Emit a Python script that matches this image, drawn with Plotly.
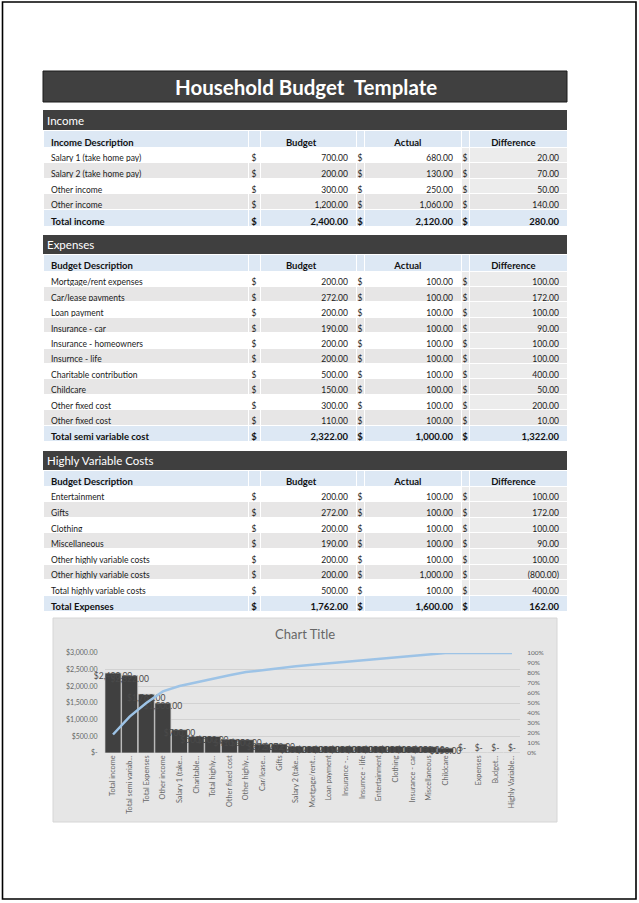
import numpy as np
import plotly.graph_objects as go

W, H = 639, 903

# ---------------- data ----------------
title_text = "Household Budget\u00a0\u00a0Template"
col_labels = ["Budget", "Actual", "Difference"]

income_desc = ["Salary 1 (take home pay)", "Salary 2 (take home pay)", "Other income", "Other income"]
income_budget = [700, 200, 300, 1200]
income_actual = [680, 130, 250, 1060]
income_diff = [20, 70, 50, 140]
income_total = [2400, 2120, 280]

expense_desc = ["Mortgage/rent expenses", "Car/lease payments", "Loan payment", "Insurance - car",
                "Insurance - homeowners", "Insurnce - life", "Charitable contribution", "Childcare",
                "Other fixed cost", "Other fixed cost"]
expense_budget = [200, 272, 200, 190, 200, 200, 500, 150, 300, 110]
expense_actual = [100, 100, 100, 100, 100, 100, 100, 100, 100, 100]
expense_diff = [100, 172, 100, 90, 100, 100, 400, 50, 200, 10]
expense_total = [2322, 1000, 1322]

variable_desc = ["Entertainment", "Gifts", "Clothing", "Miscellaneous", "Other highly variable costs",
                 "Other highly variable costs", "Total highly variable costs"]
variable_budget = [200, 272, 200, 190, 200, 200, 500]
variable_actual = [100, 100, 100, 100, 100, 1000, 100]
variable_diff = [100, 172, 100, 90, 100, -800, 400]
variable_total = [1762, 1600, 162]

pareto_categories = ["Total income", "Total semi variable cost", "Total Expenses", "Other income",
                     "Salary 1 (take home pay)", "Charitable contribution", "Total highly variable costs",
                     "Other fixed cost", "Other highly variable costs", "Car/lease payments", "Gifts",
                     "Salary 2 (take home pay)", "Mortgage/rent expenses", "Loan payment",
                     "Insurance - homeowners", "Insurnce - life", "Entertainment", "Clothing",
                     "Insurance - car", "Miscellaneous", "Childcare", "(blank)", "Expenses",
                     "Budget Description", "Highly Variable Costs"]
pareto_tick_labels = ["Total income", "Total semi variab...", "Total Expenses", "Other income",
                      "Salary 1 (take...", "Charitable...", "Total highly...", "Other fixed cost",
                      "Other highly...", "Car/lease...", "Gifts", "Salary 2 (take...", "Mortgage/rent...",
                      "Loan payment", "Insurance -...", "Insurnce - life", "Entertainment", "Clothing",
                      "Insurance - car", "Miscellaneous", "Childcare", "", "Expenses", "Budget...",
                      "Highly Variable..."]
pareto_values = [2400, 2322, 1762, 1500, 700, 500, 500, 410, 400, 272, 272, 200, 200, 200,
                 200, 200, 200, 200, 190, 190, 150, 0, 0, 0, 0]
money_ticks = [0, 500, 1000, 1500, 2000, 2500, 3000]

# ---------------- helpers ----------------
def px_x(x):
    return x / W

def px_y(y):
    return 1 - y / H

def num(v):
    return f"({abs(v):,.2f})" if v < 0 else f"{v:,.2f}"

def dollars(v):
    return "$-" if v == 0 else f"${v:,.2f}"

DARK = "#3f3f3f"
BLUE = "#dde8f4"
GRAY = "#e7e6e6"
DIFFW = "#ececec"
NB = "\u00a0"
FONT = "Lato"
COLW = [205, 12, 96, 8, 97, 8, 98]
TX = [px_x(43), px_x(567)]

shapes = []
annotations = []


def section(title, head_label, desc, bud, act, diff, total_label, totals, bar_top, bar_bot, head_h, row_h):
    shapes.append(dict(type="rect", xref="paper", yref="paper", x0=px_x(43), x1=px_x(567),
                       y0=px_y(bar_bot), y1=px_y(bar_top), fillcolor=DARK, line=dict(width=0),
                       layer="below"))
    annotations.append(dict(text=title, xref="paper", yref="paper", x=px_x(45),
                            y=px_y((bar_top + bar_bot) / 2), xanchor="left", yanchor="middle",
                            showarrow=False, font=dict(family=FONT, size=11.5, color="white")))
    n = len(desc)
    c_d = ["$"] * n
    cols = [desc, c_d, [num(v) for v in bud], c_d, [num(v) for v in act], c_d, [num(v) for v in diff]]

    fills = []
    for ci in range(7):
        col = []
        for r in range(n):
            if r % 2 == 1:
                col.append(GRAY)
            else:
                col.append(DIFFW if ci >= 5 else "white")
        fills.append(col)

    header_vals = [head_label, "", col_labels[0] + NB * 6, "",
                   col_labels[1] + NB * 4, "", col_labels[2] + NB * 4]
    top = bar_bot
    main_h = head_h + n * row_h
    main = go.Table(
        domain=dict(x=TX, y=[px_y(top + main_h + 1), px_y(top)]),
        columnwidth=COLW,
        header=dict(values=header_vals, fill_color=BLUE, line=dict(color="white", width=1),
                    font=dict(family=FONT, size=9.5, color="#111111", weight="bold"),
                    align=["left", "center", "center", "center", "center", "center", "center"],
                    height=head_h),
        cells=dict(values=cols, fill_color=fills,
                   align=["left", "center", "right", "center", "right", "center", "right"],
                   line=dict(color="white", width=1),
                   font=dict(family=FONT, size=8.5, color="#1a1a1a"),
                   height=row_h),
    )
    ttop = top + main_h
    total = go.Table(
        domain=dict(x=TX, y=[px_y(ttop + row_h + 2), px_y(ttop)]),
        columnwidth=COLW,
        header=dict(values=[total_label, "$", num(totals[0]), "$", num(totals[1]), "$", num(totals[2])],
                    fill_color=BLUE, line=dict(color="white", width=1),
                    font=dict(family=FONT, size=9.5, color="#111111", weight="bold"),
                    align=["left", "center", "right", "center", "right", "center", "right"],
                    height=row_h + 1),
        cells=dict(values=[[] for _ in range(7)]),
    )
    return [main, total]


fig = go.Figure()

for t in section("Income", "Income Description", income_desc, income_budget, income_actual,
                 income_diff, "Total income", income_total, 110, 130.5, 16.5, 15.6):
    fig.add_trace(t)
for t in section("Expenses", "Budget Description", expense_desc, expense_budget, expense_actual,
                 expense_diff, "Total semi variable cost", expense_total, 235, 254, 17, 15.4):
    fig.add_trace(t)
for t in section("Highly Variable Costs", "Budget Description", variable_desc, variable_budget,
                 variable_actual, variable_diff, "Total Expenses", variable_total, 451, 470, 16, 15.6):
    fig.add_trace(t)

# ---------------- pareto chart ----------------
vals = np.array(pareto_values, dtype=float)
cum = np.cumsum(vals) / vals.sum()

fig.add_trace(go.Bar(x=pareto_categories, y=pareto_values, marker=dict(color="#404040",
                     line=dict(color="#c9c9c9", width=0.8)), xaxis="x", yaxis="y",
                     showlegend=False, hoverinfo="x+y"))
fig.add_trace(go.Scatter(x=pareto_categories, y=pareto_values, mode="text",
                         text=[dollars(v) for v in pareto_values],
                         textposition=["top center" if v == 0 else "bottom center" for v in pareto_values],
                         textfont=dict(family=FONT, size=8.5, color="#4a4a4a"),
                         xaxis="x", yaxis="y", showlegend=False, cliponaxis=False, hoverinfo="skip"))
fig.add_trace(go.Scatter(x=pareto_categories, y=cum, mode="lines",
                         line=dict(color="#9dc3e6", width=2.5), xaxis="x", yaxis="y2",
                         showlegend=False))

shapes.extend([
    dict(type="rect", xref="paper", yref="paper", x0=px_x(53), x1=px_x(557), y0=px_y(822),
         y1=px_y(618), fillcolor="#e6e6e6", line=dict(color="#d6d6d6", width=1), layer="below"),
    dict(type="rect", xref="paper", yref="paper", x0=px_x(43), x1=px_x(567), y0=px_y(102),
         y1=px_y(71), fillcolor="#404040", line=dict(color="#1a1a1a", width=1), layer="below"),
    dict(type="rect", xref="paper", yref="paper", x0=px_x(2.5), x1=px_x(636), y0=px_y(899),
         y1=px_y(2), fillcolor="rgba(0,0,0,0)", line=dict(color="black", width=1.6)),
])
annotations.extend([
    dict(text=title_text, xref="paper", yref="paper", x=px_x(306), y=px_y(87),
         showarrow=False, font=dict(family=FONT, size=20.5, color="white", weight="bold"),
         xanchor="center", yanchor="middle"),
    dict(text="Chart Title", xref="paper", yref="paper", x=px_x(305), y=px_y(634),
         showarrow=False, font=dict(family=FONT, size=13, color="#666666"),
         xanchor="center", yanchor="middle"),
])

fig.update_layout(
    width=W, height=H,
    margin=dict(l=0, r=0, t=0, b=0, autoexpand=False),
    paper_bgcolor="white",
    plot_bgcolor="rgba(0,0,0,0)",
    font=dict(family=FONT),
    bargap=0.03,
    xaxis=dict(domain=[px_x(104.7), px_x(520.3)], anchor="y", type="category",
               range=[-0.5, len(pareto_categories) - 0.5],
               tickvals=pareto_categories, ticktext=pareto_tick_labels, tickangle=-90,
               tickfont=dict(family=FONT, size=7.3, color="#666666"), showgrid=False,
               showline=False, ticks="", zeroline=False, automargin=False),
    yaxis=dict(domain=[px_y(753), px_y(653)], range=[0, 3000], anchor="x",
               tickvals=money_ticks, ticktext=[dollars(v) for v in money_ticks],
               tickfont=dict(family=FONT, size=7, color="#666666"),
               showgrid=True, gridcolor="#d2d2d2", gridwidth=1, zeroline=False, ticks="",
               ticklabelstandoff=6, automargin=False),
    yaxis2=dict(overlaying="y", side="right", anchor="x", range=[0, 1], dtick=0.1,
                tickformat=".0%", tickfont=dict(family=FONT, size=6.5, color="#666666"),
                showgrid=False, zeroline=False, ticks="", ticklabelstandoff=6, automargin=False),
    shapes=shapes,
    annotations=annotations,
)

fig.write_html("out.html", config={"displayModeBar": False},
               post_script="document.body.style.margin='0px';document.body.style.overflow='hidden';")
